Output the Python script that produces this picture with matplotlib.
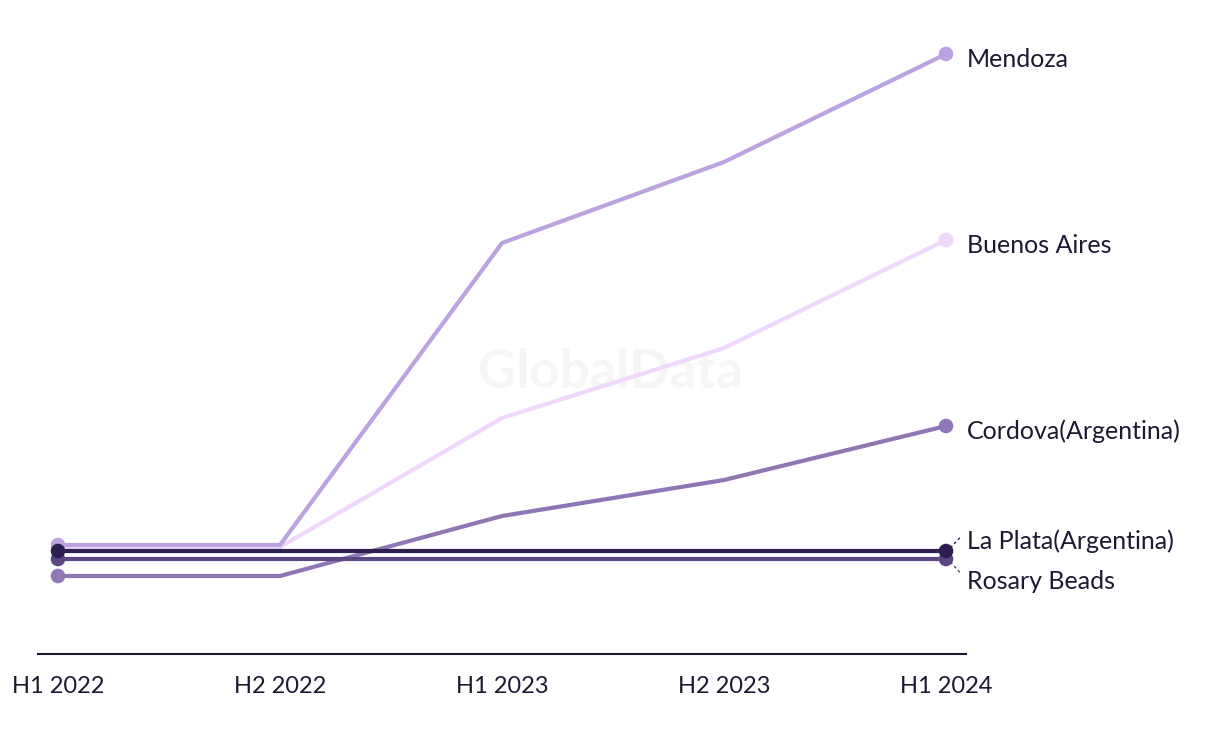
import matplotlib.pyplot as plt

periods = ["H1 2022", "H2 2022", "H1 2023", "H2 2023", "H1 2024"]
mendoza = [109, 109, 411, 492, 600]
buenos_aires = [107, 107, 236, 306, 414]
cordova = [78, 78, 138, 174, 228]
la_plata = [103, 103, 103, 103, 103]
rosary = [95, 95, 95, 95, 95]

# name, values, colour, label offset (points)
series = [
    ("Buenos Aires", buenos_aires, "#efd8fb", -4),
    ("Mendoza", mendoza, "#bba3e1", -4),
    ("Cordova(Argentina)", cordova, "#8f76b4", -4),
    ("Rosary Beads", rosary, "#5b4782", -16),
    ("La Plata(Argentina)", la_plata, "#2e1f4e", 7),
]

plt.rcParams["font.family"] = ["Lato", "DejaVu Sans"]
fig = plt.figure(figsize=(12.2, 7.44), dpi=100)
ax = fig.add_axes([38 / 1220, 90 / 744, 928 / 1220, 634 / 744])
x = list(range(len(periods)))

# watermark sits under the lines
ax.text(0.5, 0.499, "GlobalData", transform=fig.transFigure, ha="center", va="center",
        fontsize=38, fontweight="bold", color="#f6f6f6", zorder=0)

for name, vals, color, dy in series:
    ax.plot(x, vals, color=color, linewidth=3, solid_capstyle="butt", zorder=2)
    ax.scatter([x[0], x[-1]], [vals[0], vals[-1]], s=110, color=color, zorder=3, edgecolors="none")
    ax.annotate(name, xy=(x[-1], vals[-1]), xytext=(15, dy),
                textcoords="offset points", fontsize=18, color="#1c1a30",
                va="center", ha="left", annotation_clip=False)
    if name in ("Rosary Beads", "La Plata(Argentina)"):
        sign = 1 if dy > 0 else -1
        ax.plot([x[-1] + 0.02, x[-1] + 0.065], [vals[-1] + sign * 3, vals[-1] + sign * 14],
                color=color, linewidth=1, linestyle=(0, (2, 2)), clip_on=False)

ax.set_xlim(-20 / 222, 4 + 20 / 222)
ax.set_ylim(0, 634)
ax.set_xticks(x)
ax.set_xticklabels(periods, fontsize=17, color="#1c1a30")
ax.tick_params(axis="x", length=0, pad=16)
ax.set_yticks([])
for side in ["top", "right", "left"]:
    ax.spines[side].set_visible(False)
ax.spines["bottom"].set_color("#1c1a30")
ax.spines["bottom"].set_linewidth(1.5)

fig.savefig("out.png", dpi=100)
